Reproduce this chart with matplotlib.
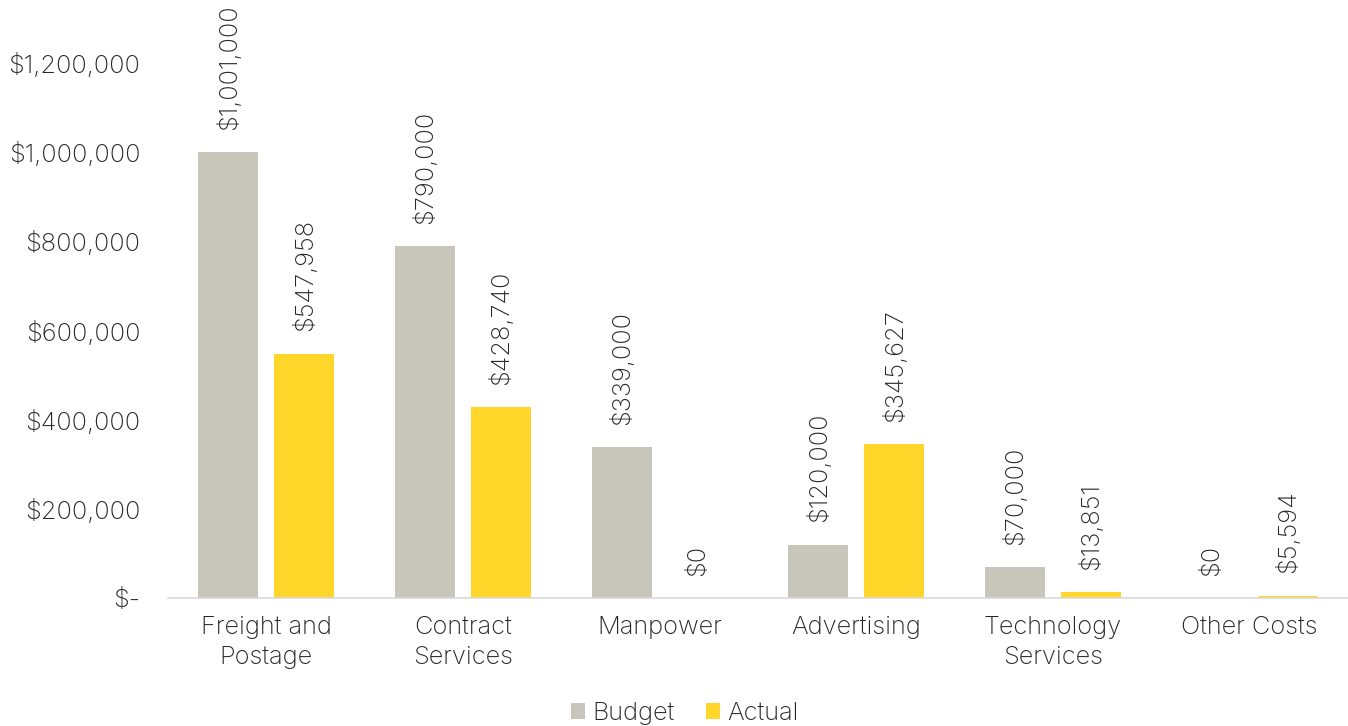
import numpy as np
import matplotlib
matplotlib.use("Agg")
import matplotlib.pyplot as plt
from matplotlib.ticker import FuncFormatter

categories = ["Freight and\nPostage", "Contract\nServices", "Manpower",
              "Advertising", "Technology\nServices", "Other Costs"]
budget = [1001000, 790000, 339000, 120000, 70000, 0]
actual = [547958, 428740, 0, 345627, 13851, 5594]

plt.rcParams['font.family'] = ['Inter', 'DejaVu Sans']
plt.rcParams['font.weight'] = 'light'
text_color = "#262626"
fs = 18.3

fig = plt.figure(figsize=(13.48, 7.26), dpi=100)
ax = fig.add_axes([0.1246, 0.1763, 0.8754, 0.7369])

x = np.arange(len(categories))
w = 0.305
off = 0.193
b1 = ax.bar(x - off, budget, w, color="#C8C5BA", label="Budget")
b2 = ax.bar(x + off, actual, w, color="#FFD629", label="Actual")

# データラベル（縦書き）
for bars, vals in ((b1, budget), (b2, actual)):
    for rect, v in zip(bars, vals):
        ax.annotate("${:,.0f}".format(v),
                    xy=(rect.get_x() + rect.get_width() / 2, v),
                    xytext=(0, 16), textcoords="offset points",
                    rotation=90, ha="center", va="bottom",
                    fontsize=fs, color=text_color, annotation_clip=False)

def money(v, pos):
    if v == 0:
        return "$-"
    return "${:,.0f}".format(v)

ax.set_xlim(-0.5, len(categories) - 0.5)
ax.set_ylim(0, 1200000)
ax.set_yticks(np.arange(0, 1200001, 200000))
ax.yaxis.set_major_formatter(FuncFormatter(money))
ax.set_xticks(x)
ax.set_xticklabels(categories, linespacing=1.4)
ax.tick_params(axis="both", length=0, labelsize=fs, labelcolor=text_color)
ax.tick_params(axis="y", pad=20)
ax.tick_params(axis="x", pad=13)

for s in ("top", "right", "left"):
    ax.spines[s].set_visible(False)
ax.spines["bottom"].set_color("#D9D9D9")
ax.spines["bottom"].set_linewidth(1.2)

leg = fig.legend(loc="lower center", bbox_to_anchor=(0.508, -0.03), ncol=2,
                 frameon=False, fontsize=fs, handlelength=0.55, handleheight=0.55,
                 handletextpad=0.3, columnspacing=1.2)
for t in leg.get_texts():
    t.set_color(text_color)

fig.savefig("out.png", dpi=100)
